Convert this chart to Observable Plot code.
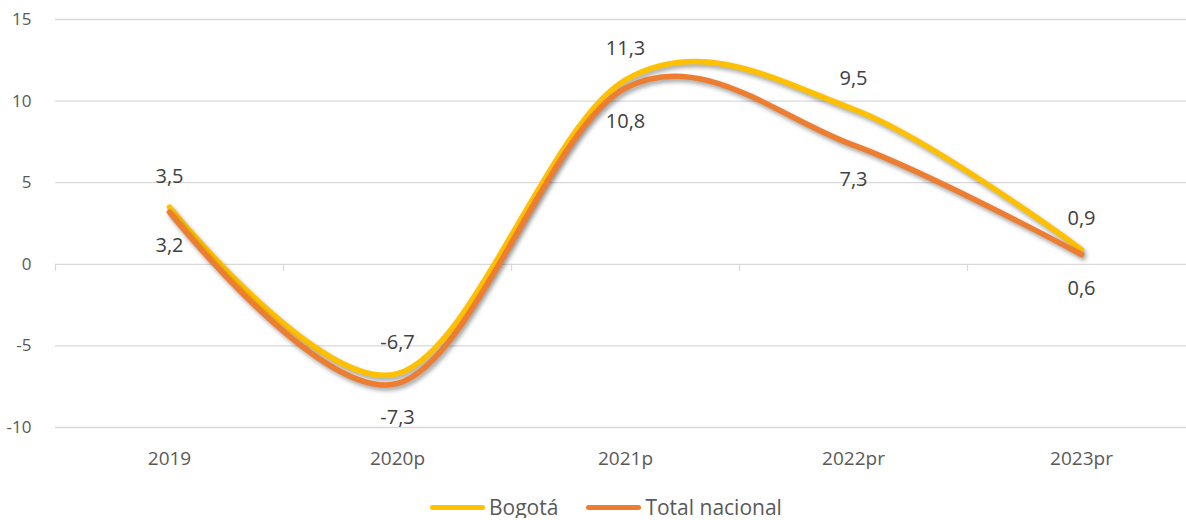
<!DOCTYPE html>
<html><head><meta charset="utf-8">
<script src="https://cdn.jsdelivr.net/npm/d3@7"></script>
<script src="https://cdn.jsdelivr.net/npm/@observablehq/plot@0.6"></script>
<style>
body{margin:0;background:#fff;font-family:"Open Sans", Lato, sans-serif;}
#chart svg g[aria-label="line"] path{filter:drop-shadow(2px 3px 2px rgba(0,0,0,0.35));}
.legend{display:flex;align-items:center;margin-left:430px;margin-top:21px;font-size:21px;color:#595959;line-height:22px;}
.legend .item{display:flex;align-items:center;margin-right:28px;}
.legend .sw{width:55px;height:5px;border-radius:3px;margin-right:4px;}
</style></head><body>
<div id="chart"></div>
<div class="legend" id="legend"></div>
<script>
const categories = ["2019","2020p","2021p","2022pr","2023pr"];
const bogota = [3.5, -6.7, 11.3, 9.5, 0.9];
const nacional = [3.2, -7.3, 10.8, 7.3, 0.6];
const yTicks = [-10, -5, 0, 5, 10, 15];
const seriesNames = ["Bogotá", "Total nacional"];
const seriesColors = ["#FFC000", "#ED7D31"];

const fmt = v => String(v).replace(".", ",");
const rows = (vals) => vals.map((v, i) => ({i, v}));
const rowsB = rows(bogota);
const rowsN = rows(nacional);
const idx = d3.range(categories.length);
const boundaries = d3.range(categories.length + 1).map(i => i - 0.5);

const chart = Plot.plot({
  width: 1186,
  height: 475,
  marginTop: 19,
  marginBottom: 48,
  marginLeft: 55,
  marginRight: 0,
  style: {fontFamily: "'Open Sans', Lato, sans-serif", color: "#595959", background: "#fff", overflow: "visible"},
  x: {type: "linear", domain: [-0.5, categories.length - 0.5], range: [55, 1195]},
  y: {domain: [-10, 15]},
  marks: [
    Plot.ruleY(yTicks, {stroke: "#d9d9d9", strokeWidth: 1.3}),
    Plot.ruleX(boundaries, {y1: 0, y2: 0, insetBottom: -7, stroke: "#d9d9d9", strokeWidth: 1.3}),
    Plot.axisY(yTicks, {tickSize: 0, tickPadding: 24, fontSize: 17, label: null, tickFormat: d => String(d)}),
    Plot.axisX(idx, {tickSize: 0, tickPadding: 24, fontSize: 19, label: null, tickFormat: i => categories[i]}),
    Plot.line(rowsB, {x: "i", y: "v", curve: "cardinal", stroke: seriesColors[0], strokeWidth: 5.5, strokeLinecap: "round"}),
    Plot.line(rowsN, {x: "i", y: "v", curve: "cardinal", stroke: seriesColors[1], strokeWidth: 5.5, strokeLinecap: "round"}),
    Plot.text(rowsB, {x: "i", y: "v", text: d => fmt(d.v), dy: -31, fontSize: 20, fill: "#404040"}),
    Plot.text(rowsN, {x: "i", y: "v", text: d => fmt(d.v), dy: 34, fontSize: 20, fill: "#404040"})
  ]
});
document.getElementById("chart").appendChild(chart);

const legend = d3.select("#legend");
seriesNames.forEach((name, k) => {
  const item = legend.append("div").attr("class", "item");
  item.append("div").attr("class", "sw").style("background", seriesColors[k]);
  item.append("span").text(name);
});
</script>
</body></html>
